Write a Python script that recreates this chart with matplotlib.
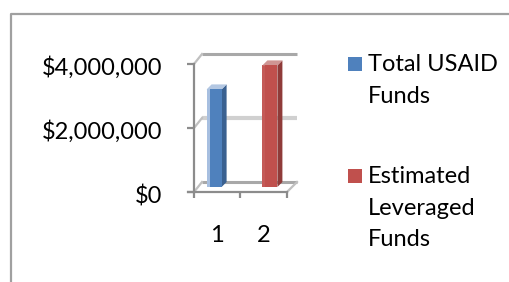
import matplotlib
matplotlib.use('Agg')
import matplotlib.pyplot as plt
from matplotlib.patches import Polygon, Rectangle
from matplotlib.lines import Line2D
from matplotlib.transforms import ScaledTranslation
import numpy as np

# ---- data ----
categories = ['1', '2']
series_names = ['Total USAID\nFunds', 'Estimated\nLeveraged\nFunds']
values = [3050000, 3800000]
y_ticks = [0, 2000000, 4000000]
y_tick_labels = ['$0', '$2,000,000', '$4,000,000']
y_max = 4000000

front_colors = ['#4f81bd', '#c0504d']
side_colors = ['#3a6191', '#8f3b39']
top_colors = ['#b3c7e2', '#cf9593']
edge_colors = ['#a7bfe0', '#c45a57']

plt.rcParams['font.family'] = ['Lato', 'DejaVu Sans']
FS = 17

W, H = 510, 282
fig = plt.figure(figsize=(W / 100, H / 100), dpi=100)

ax_left, ax_right, ax_top, ax_bottom = 194, 287, 64, 192
ax = fig.add_axes([ax_left / W, 1 - ax_bottom / H,
                   (ax_right - ax_left) / W, (ax_bottom - ax_top) / H])
n = len(categories)
ax.set_xlim(0, n)
ax.set_ylim(0, y_max)
ax.patch.set_visible(False)

# pixel -> data scale factors
ppx = (ax_right - ax_left) / n
ppy = (ax_bottom - ax_top) / y_max
def dx(p):
    return p / ppx
def dy(p):
    return p / ppy

axis_gray = '#8c8c8c'
wall_gray = '#a8a8a8'
grid_gray = '#d0d0d0'

for s in ['top', 'right']:
    ax.spines[s].set_visible(False)
for s in ['left', 'bottom']:
    ax.spines[s].set_color(axis_gray)
    ax.spines[s].set_linewidth(1.6)
ax.spines['bottom'].set_bounds(-dx(6), n)

ax.set_yticks(y_ticks)
ax.set_yticklabels(y_tick_labels, fontsize=FS, color='black')
ax.tick_params(axis='y', length=5, width=1.6, color=axis_gray, pad=18)
shift = ScaledTranslation(0, -2 / 100, fig.dpi_scale_trans)
for lab in ax.get_yticklabels():
    lab.set_transform(lab.get_transform() + shift)
ax.set_xticks(np.arange(n + 1))
ax.set_xticklabels([])
ax.tick_params(axis='x', length=4.5, width=1.6, color=axis_gray)
ax.set_xticks(np.arange(n) + 0.5, minor=True)
ax.set_xticklabels(categories, minor=True, fontsize=FS)
ax.tick_params(axis='x', which='minor', length=0, pad=24)

# back wall (offset by depth)
DX, DY = 8, 10
bx, by = dx(DX), dy(DY)
for yv in y_ticks:
    c = wall_gray if yv in (0, y_max) else grid_gray
    ax.plot([bx, n + dx(10)], [yv + by, yv + by], color=c, lw=3 if yv == 2000000 else 2.2,
            solid_capstyle='butt', clip_on=False, zorder=1)
    ax.plot([0, bx], [yv, yv + by], color='#c0c0c0', lw=1.6, clip_on=False, zorder=1)
ax.plot([n, n + dx(10)], [0, by], color='#c0c0c0', lw=1.6, clip_on=False, zorder=1)

# bars with pseudo 3D
bw = dx(12)
fx, fy = dx(3), dy(5)
sx, sy = dx(5), dy(5)
for i, v in enumerate(values):
    xc = i + 0.5 + (i - 0.5) * 0.2
    x0 = xc - bw / 2 + fx
    x1 = xc + bw / 2 + fx
    y0 = fy
    y1 = v + fy
    ax.add_patch(Rectangle((x0 - dx(3), y0), dx(3), v, facecolor=edge_colors[i],
                           edgecolor='none', clip_on=False, zorder=3))
    ax.add_patch(Polygon([(x1, y0), (x1 + sx, y0 + sy), (x1 + sx, y1 + sy), (x1, y1)],
                         closed=True, facecolor=side_colors[i], edgecolor='none',
                         clip_on=False, zorder=3))
    ax.add_patch(Polygon([(x0 - dx(3), y1), (x0 - dx(3) + sx, y1 + sy), (x1 + sx, y1 + sy), (x1, y1)],
                         closed=True, facecolor=top_colors[i], edgecolor='none',
                         clip_on=False, zorder=3))
    ax.bar([xc + fx], [v], width=bw, bottom=fy, color=front_colors[i],
           edgecolor='none', clip_on=False, zorder=4)

# legend (manual)
leg_x = 348
first_base = [71, 183]
line_h = 31.7
for i, name in enumerate(series_names):
    b = first_base[i]
    fig.patches.append(Rectangle((leg_x / W, 1 - (b - 0.5) / H), 14 / W, 14 / H,
                                 facecolor=front_colors[i], edgecolor='none',
                                 transform=fig.transFigure, figure=fig))
    for j, line in enumerate(name.split('\n')):
        fig.text(368 / W, 1 - (b + j * line_h) / H, line, fontsize=FS,
                 va='baseline', ha='left')

# outer border
fig.add_artist(Line2D([11 / W, 11 / W, 1.0], [0.0, 1 - 14 / H, 1 - 14 / H],
                      color='#a0a0a0', lw=1.6, transform=fig.transFigure))

fig.savefig('out.png', dpi=100)
